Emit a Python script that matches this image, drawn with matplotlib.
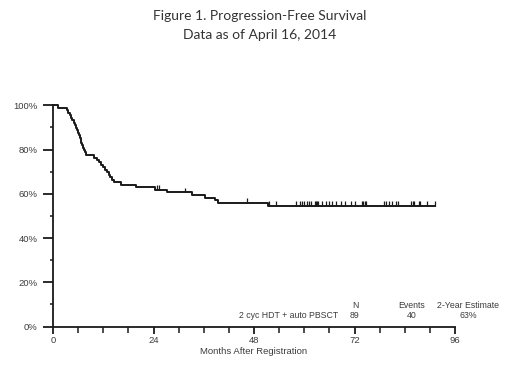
import numpy as np
import matplotlib
matplotlib.use("Agg")
import matplotlib.pyplot as plt
from matplotlib.ticker import MultipleLocator, FuncFormatter

# Kaplan-Meier step points (month of event, survival % after event)
event_months = [0, 1.3, 3.3, 3.6, 4.0, 4.3, 4.6, 5.0, 5.2, 5.5, 5.8, 6.0, 6.2, 6.4,
                6.6, 6.8, 7.0, 7.2, 7.4, 7.6, 7.9, 9.9, 10.4, 10.9, 11.4, 12.0,
                12.5, 12.9, 13.3, 13.7, 14.1, 14.5, 16.2, 19.8, 24.4, 27.2, 33.2,
                36.3, 38.7, 39.5, 51.3]
survival_pct = [100.0, 98.9, 97.8, 96.6, 95.5, 94.4, 93.3, 92.1, 91.0, 89.9, 88.8,
                87.6, 86.5, 85.4, 84.3, 83.1, 82.0, 80.9, 79.8, 78.7, 77.5, 76.4,
                75.3, 74.2, 73.0, 71.9, 70.8, 69.7, 68.5, 67.4, 66.3, 65.2, 64.0,
                62.9, 61.8, 60.6, 59.4, 58.2, 57.0, 55.8, 54.6]
censor_months = [24.8, 25.4, 31.6, 46.4, 51.5, 53.2, 58.0, 58.9, 59.4, 60.0, 60.6,
                 61.1, 61.6, 62.6, 62.8, 63.1, 63.4, 64.3, 65.2, 65.9, 66.7, 67.5,
                 68.7, 69.8, 71.1, 72.1, 73.9, 74.1, 74.5, 74.8, 79.1, 79.5, 80.3,
                 80.9, 81.9, 82.5, 85.4, 85.9, 86.3, 87.3, 87.7, 89.3, 91.2]
end_month = 91.2

x_ticks = [0, 24, 48, 72, 96]
y_ticks = [0, 20, 40, 60, 80, 100]

group_label = "2 cyc HDT + auto PBSCT"
n_patients = "89"
n_events = "40"
two_year_est = "63%"

title_lines = ["Figure 1. Progression-Free Survival", "Data as of April 16, 2014"]
x_label = "Months After Registration"

W, H = 520, 380
fig = plt.figure(figsize=(W / 100, H / 100), dpi=100)
ax = fig.add_axes([53 / W, 1 - 326.5 / H, (455 - 53) / W, (326.5 - 105.3) / H])

line_col = "#1a1a1a"
text_col = "#3c3c3c"

# step curve
xs = list(event_months) + [end_month]
ys = list(survival_pct) + [survival_pct[-1]]
ax.step(xs, ys, where="post", color=line_col, lw=1.4, clip_on=False)

# censor marks
ev = np.array(event_months)
sv = np.array(survival_pct)
cm = np.array(censor_months)
idx = np.searchsorted(ev, cm, side="right") - 1
cy = sv[idx]
ax.vlines(cm, cy, cy + 2.2, color=line_col, lw=0.9)

ax.set_xlim(0, 96)
ax.set_ylim(0, 100)
for s in ["top", "right"]:
    ax.spines[s].set_visible(False)
for s in ["left", "bottom"]:
    ax.spines[s].set_color(line_col)
    ax.spines[s].set_linewidth(1.3)

ax.xaxis.set_major_locator(plt.FixedLocator(x_ticks))
ax.xaxis.set_minor_locator(MultipleLocator(6))
ax.yaxis.set_major_locator(plt.FixedLocator(y_ticks))
ax.yaxis.set_minor_locator(MultipleLocator(10))
ax.yaxis.set_major_formatter(FuncFormatter(lambda v, p: f"{int(v)}%"))
ax.tick_params(axis="x", which="major", direction="out", length=5, width=1.3,
               color=line_col, labelsize=6.8, labelcolor=text_col, pad=2)
ax.tick_params(axis="x", which="minor", direction="out", length=4, width=1.1, color=line_col)
ax.tick_params(axis="y", which="major", direction="out", length=7, width=1.3,
               color=line_col, labelsize=6.8, labelcolor=text_col, pad=4)
ax.tick_params(axis="y", which="minor", direction="out", length=2.5, width=1.1, color=line_col)
for lab in ax.get_xticklabels() + ax.get_yticklabels():
    lab.set_fontfamily("Liberation Sans")

ax.set_xlabel(x_label, fontsize=6.8, color=text_col, family="Liberation Sans", labelpad=1)

# title
fig.text(260 / W, 1 - 16 / H, title_lines[0], ha="center", va="center",
         fontsize=10, color="#333333", family="Lato")
fig.text(260 / W, 1 - 35 / H, title_lines[1], ha="center", va="center",
         fontsize=10, color="#333333", family="Lato")

# table
tf = dict(fontsize=6.3, color=text_col, family="Liberation Sans", va="center")
fig.text(355 / W, 1 - 306 / H, "N", ha="center", **tf)
fig.text(412 / W, 1 - 306 / H, "Events", ha="center", **tf)
fig.text(468 / W, 1 - 306 / H, "2-Year Estimate", ha="center", **tf)
fig.text(338 / W, 1 - 316 / H, group_label, ha="right", **tf)
fig.text(355 / W, 1 - 316 / H, n_patients, ha="center", **tf)
fig.text(412 / W, 1 - 316 / H, n_events, ha="center", **tf)
fig.text(468 / W, 1 - 316 / H, two_year_est, ha="center", **tf)

fig.savefig("out.png", dpi=100)
